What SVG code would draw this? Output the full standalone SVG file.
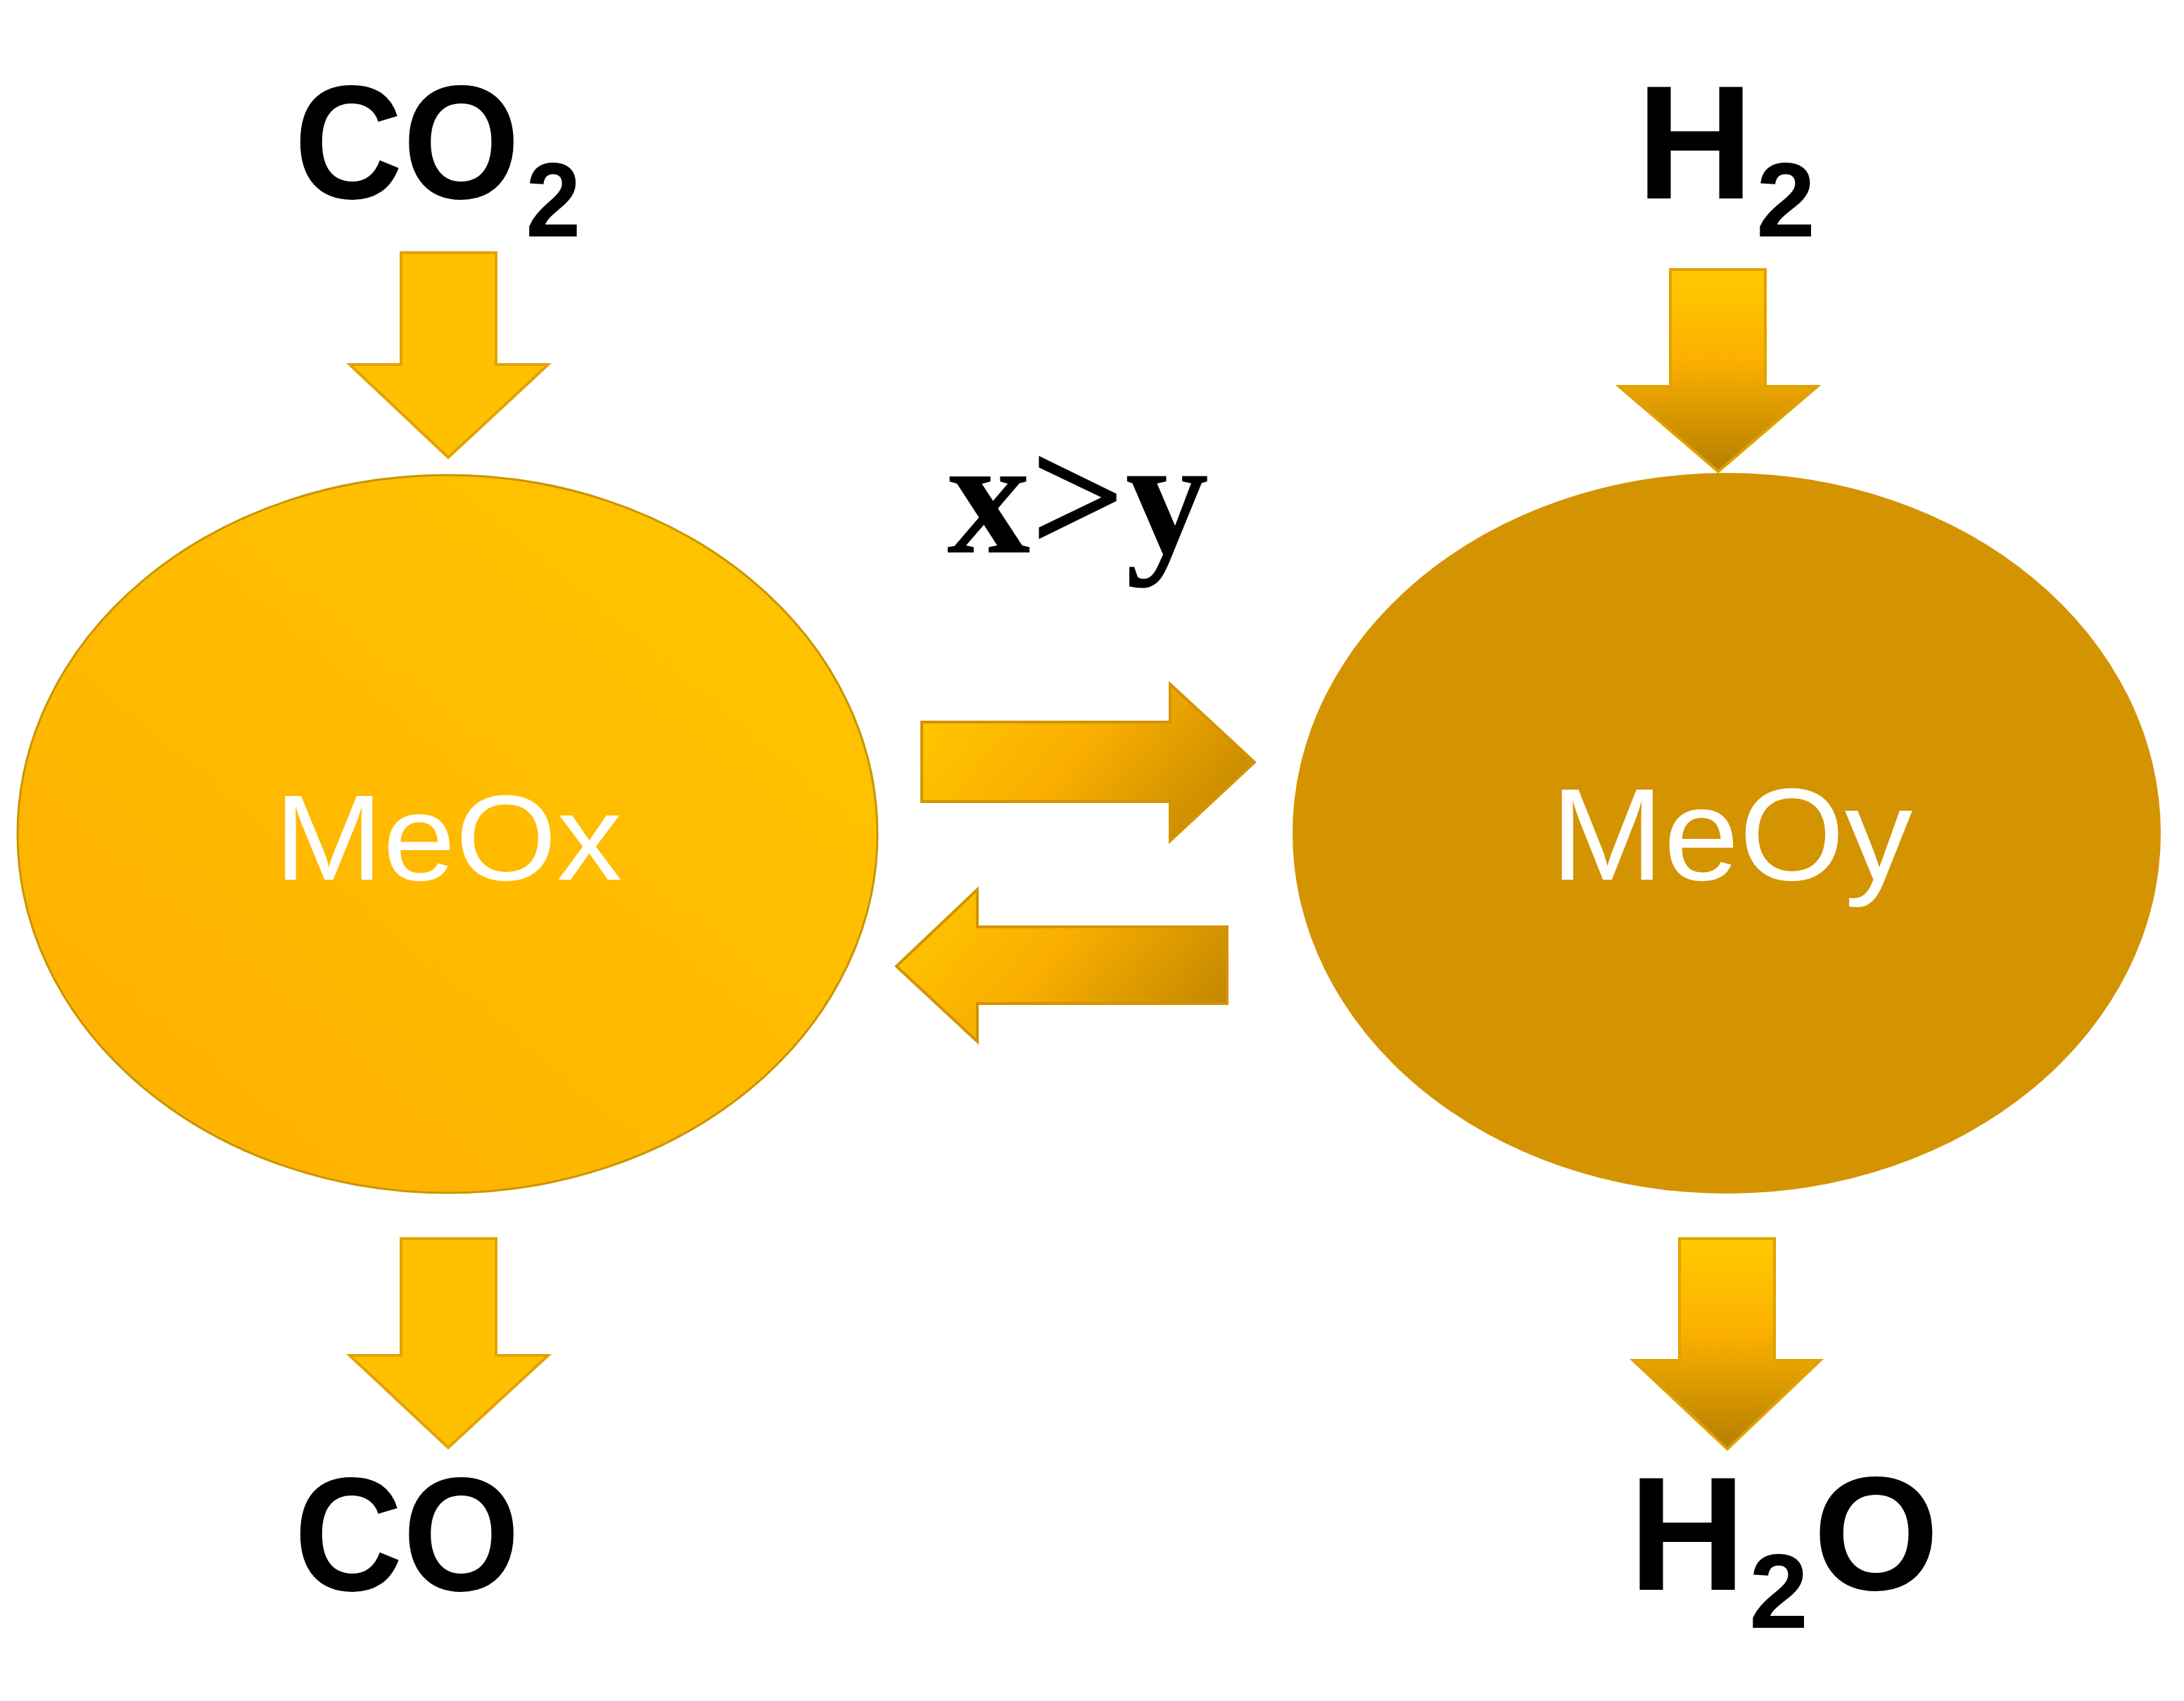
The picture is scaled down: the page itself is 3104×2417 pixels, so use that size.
<svg xmlns="http://www.w3.org/2000/svg" width="3104" height="2417" viewBox="0 0 3104 2417">
  <style>
    .lbl { font-family: "Liberation Sans", Arial, sans-serif; font-weight: bold; fill: #000; font-size: 230px; }
    .sub { font-size: 151px; }
    .node-txt { font-family: "Liberation Sans", Arial, sans-serif; fill: #fff; }
    .ratio { font-family: "Liberation Serif", "Times New Roman", serif; font-weight: bold; fill: #000; }
    .arr-solid { fill: #FFC000; stroke: #E2A300; stroke-width: 4; stroke-linejoin: miter; }
    .arr-vgrad { fill: url(#gV); stroke: #DFA200; stroke-width: 4; }
    .arr-hgrad { fill: url(#gH); stroke: #D29400; stroke-width: 4; }
  </style>
  <defs>
    <linearGradient id="gLeft" x1="1" y1="0" x2="0" y2="1">
      <stop offset="0" stop-color="#FFC600"/>
      <stop offset="1" stop-color="#FFAF00"/>
    </linearGradient>
    <linearGradient id="gV" x1="0" y1="0" x2="0" y2="1">
      <stop offset="0" stop-color="#FFCA00"/>
      <stop offset="0.45" stop-color="#FBB000"/>
      <stop offset="1" stop-color="#B47E00"/>
    </linearGradient>
    <linearGradient id="gH" x1="0" y1="0.3" x2="1" y2="0.7">
      <stop offset="0" stop-color="#FFC400"/>
      <stop offset="0.45" stop-color="#F9AE00"/>
      <stop offset="1" stop-color="#C48800"/>
    </linearGradient>
  </defs>
  <rect width="3104" height="2417" fill="#fff"/>

  <g id="label-co2">
    <text class="lbl" transform="translate(418,282) scale(0.93,1)">CO<tspan class="sub" dx="9" dy="54">2</tspan></text>
  </g>
  <g id="label-h2">
    <text class="lbl" x="2326" y="282">H<tspan class="sub" dx="4" dy="54">2</tspan></text>
  </g>
  <g id="label-ratio">
    <text class="ratio" x="1346" y="785" font-size="236" textLength="372" lengthAdjust="spacingAndGlyphs">x&gt;y</text>
  </g>

  <g id="node-meox">
    <ellipse cx="636" cy="1185" rx="611" ry="510" fill="url(#gLeft)" stroke="#C99500" stroke-width="3"/>
    <text class="node-txt" x="390" y="1250" font-size="172" textLength="494" lengthAdjust="spacingAndGlyphs">MeOx</text>
  </g>
  <g id="node-meoy">
    <ellipse cx="2454" cy="1184" rx="617" ry="512" fill="#D49300"/>
    <text class="node-txt" x="2204" y="1250" font-size="186" textLength="514" lengthAdjust="spacingAndGlyphs">MeOy</text>
  </g>

  <g id="label-co">
    <text class="lbl" transform="translate(418,2260) scale(0.93,1)">CO</text>
  </g>
  <g id="label-h2o">
    <text class="lbl" x="2315" y="2259">H<tspan class="sub" dx="5" dy="54">2</tspan><tspan dx="7" dy="-54">O</tspan></text>
  </g>

  <g id="connectors">
    <polygon class="arr-solid" points="570,359 705,359 705,518 779,518 637,650 497,518 570,518"/>
    <polygon class="arr-vgrad" points="2374,383 2509,383 2509,549 2583,549 2442,670 2301,549 2374,549"/>
    <polygon class="arr-solid" points="570,1760 705,1760 705,1926 779,1926 637,2057 497,1926 570,1926"/>
    <polygon class="arr-vgrad" points="2387,1760 2522,1760 2522,1933 2587,1933 2455,2059 2321,1933 2387,1933"/>
    <polygon class="arr-hgrad" points="1310,1026 1663,1026 1663,972 1783,1083 1663,1195 1663,1139 1310,1139"/>
    <polygon class="arr-hgrad" points="1744,1317 1389,1317 1389,1264 1274,1373 1389,1480 1389,1426 1744,1426"/>
  </g>
</svg>
